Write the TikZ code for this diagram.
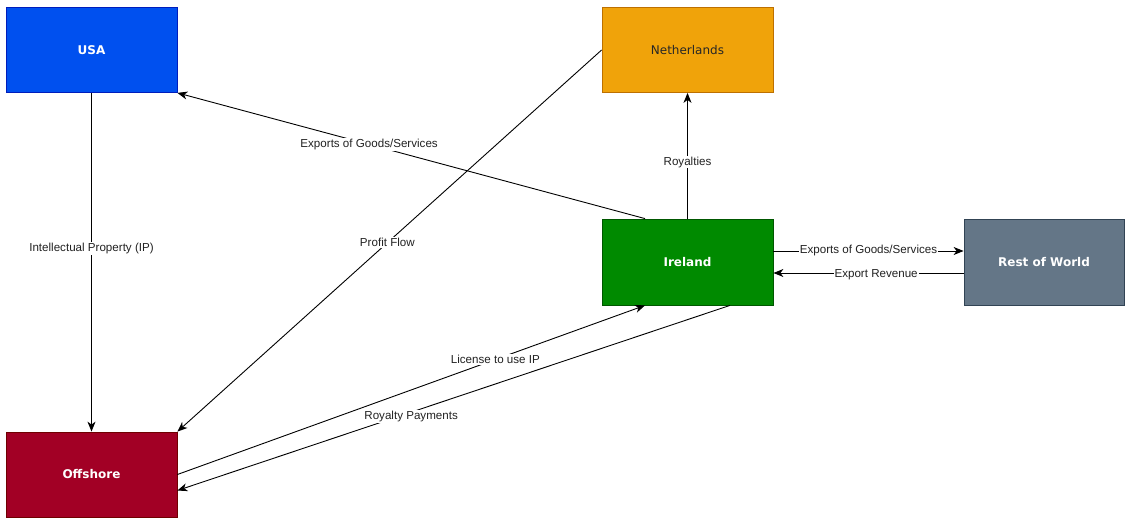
\documentclass[tikz,border=0pt]{standalone}
\usepackage{fontspec}
\setmainfont{Liberation Sans}
\newfontfamily\boxfont{DejaVu Sans}
\usetikzlibrary{arrows.meta,calc}
\definecolor{usaF}{HTML}{0050EF}\definecolor{usaD}{HTML}{001DBC}
\definecolor{nlF}{HTML}{F0A30A}\definecolor{nlD}{HTML}{BD7000}
\definecolor{ieF}{HTML}{008A00}\definecolor{ieD}{HTML}{005700}
\definecolor{ofF}{HTML}{A20025}\definecolor{ofD}{HTML}{6F0000}
\definecolor{rwF}{HTML}{647687}\definecolor{rwD}{HTML}{314354}
\definecolor{lbl}{HTML}{222222}
\tikzset{
  country/.style={draw, line width=0.8pt, minimum width=171pt, minimum height=85pt, inner sep=0pt, font=\boxfont\fontsize{12}{14}\selectfont},
  boldlbl/.style={font=\boxfont\bfseries\fontsize{12}{14}\selectfont},
  flow/.style={draw=black, line width=0.9pt, -{Stealth[length=10pt,width=8pt,inset=3pt]}},
  elabel/.style={fill=white, inner sep=1pt, text=lbl, font=\fontsize{11.6}{13}\selectfont}
}
\begin{document}
\begin{tikzpicture}[x=1pt,y=-1pt]
\useasboundingbox (0,0) rectangle (1125,518);
\node[country, boldlbl, fill=usaF, draw=usaD, text=white] (usa) at (91.5,50) {USA};
\node[country, fill=nlF, draw=nlD, text=black!85] (nl) at (687.5,50) {Netherlands};
\node[country, boldlbl, fill=ieF, draw=ieD, text=white, minimum height=86pt] (ie) at (687.5,262) {Ireland};
\node[country, boldlbl, fill=ofF, draw=ofD, text=white] (off) at (91.5,474.5) {Offshore};
\node[country, boldlbl, fill=rwF, draw=rwD, text=white, minimum width=160pt, minimum height=86pt] (rw) at (1044,262) {Rest of World};

\draw[flow] ($(ie.north)+(-42.5,0)$) -- node[elabel, pos=0.59] {Exports of Goods/Services} (usa.south east);
\draw[flow] (usa.south) -- node[elabel, pos=0.46] {Intellectual Property (IP)} (off.north);
\draw[flow] (nl.west) -- node[elabel, pos=0.505] {Profit Flow} (off.north east);
\draw[flow] (ie.north) -- node[elabel, pos=0.45] {Royalties} (nl.south);
\draw[flow] ($(ie.east)+(0,-11)$) -- node[elabel, pos=0.5] {Exports of Goods/Services} ($(rw.west)+(0,-11)$);
\draw[flow] ($(rw.west)+(0,11)$) -- node[elabel, pos=0.46, yshift=-2pt] {Export Revenue} ($(ie.east)+(0,11)$);
\draw[flow] (off.east) -- node[elabel, pos=0.68] {License to use IP} ($(ie.south)+(-42.5,0)$);
\draw[flow] ($(ie.south)+(42.5,0)$) -- node[elabel, pos=0.577, yshift=-4pt] {Royalty Payments} ($(off.east)+(0,16)$);
\end{tikzpicture}
\end{document}
